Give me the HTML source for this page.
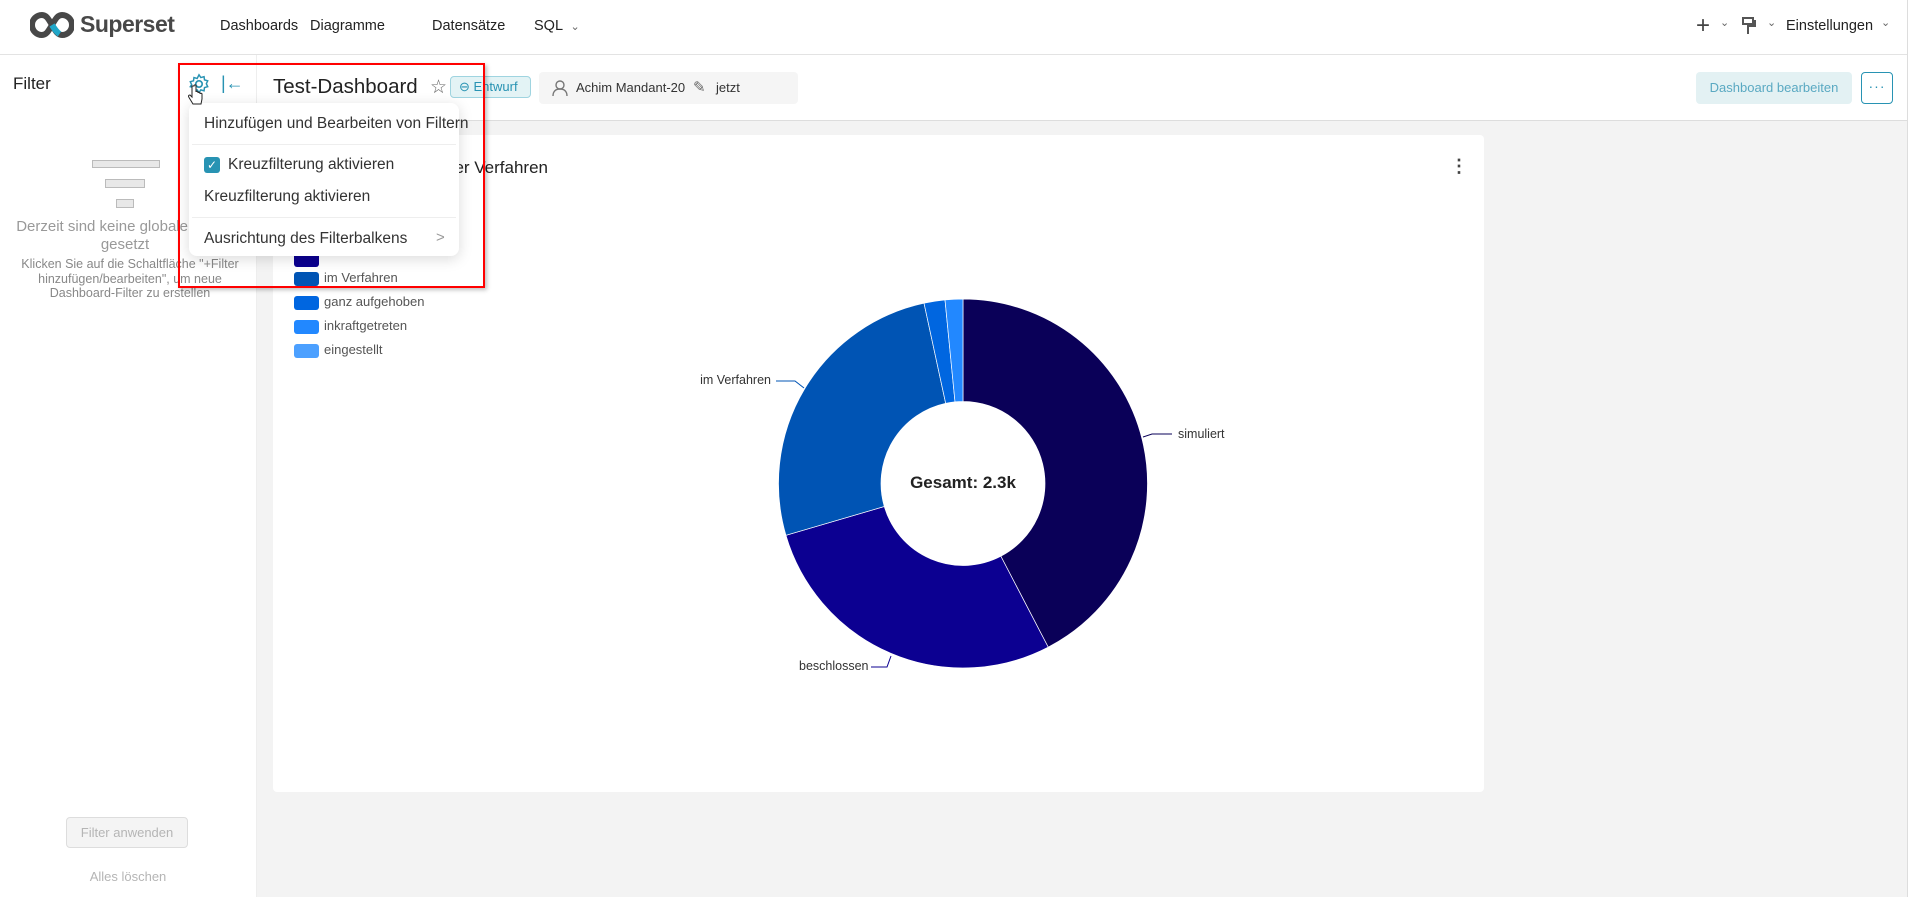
<!DOCTYPE html>
<html><head><meta charset="utf-8">
<style>
*{box-sizing:border-box;margin:0;padding:0}
body{width:1913px;height:897px;position:relative;overflow:hidden;background:#fff;font-family:"Liberation Sans",Arial,sans-serif;color:#333}
.a{position:absolute;white-space:nowrap}
.nav{font-size:14.5px;color:#222;top:18px}
</style></head><body>
<!-- header -->
<div class="a" style="left:0;top:0;width:1907px;height:55px;border-bottom:1px solid #e3e3e3;background:#fff"></div>
<svg class="a" style="left:30px;top:12px" width="44" height="26" viewBox="0 0 44 26">
<path d="M12 3a10 10 0 1 0 0 20c4 0 6-3 10-10s6-10 10-10a10 10 0 1 1 0 20c-4 0-6-3-10-10S16 3 12 3z" fill="none" stroke="#484848" stroke-width="6"/>
<path d="M22 13c2.5 4 4.5 7 7.5 9" stroke="#20a7c9" stroke-width="6" fill="none"/>
</svg>
<div class="a" style="left:80px;top:11px;font-size:23px;font-weight:bold;color:#484848;letter-spacing:-0.5px">Superset</div>
<div class="a nav" style="left:220px">Dashboards</div>
<div class="a nav" style="left:310px">Diagramme</div>
<div class="a nav" style="left:432px">Datensätze</div>
<div class="a nav" style="left:534px">SQL <span style="font-size:11px;color:#666;margin-left:4px">⌄</span></div>
<div class="a" style="left:1696px;top:12px;font-size:24px;color:#444;font-weight:300">+</div>
<div class="a" style="left:1720px;top:16px;font-size:11px;color:#666">⌄</div>
<svg class="a" style="left:1741px;top:17px" width="16" height="20"><rect x="2" y="1" width="10" height="6" fill="none" stroke="#555" stroke-width="2"/><path d="M12 4h2v5H7v8" fill="none" stroke="#555" stroke-width="2"/></svg>
<div class="a" style="left:1767px;top:16px;font-size:11px;color:#666">⌄</div>
<div class="a" style="left:1786px;top:18px;font-size:14.5px;color:#222">Einstellungen</div>
<div class="a" style="left:1881px;top:16px;font-size:11px;color:#666">⌄</div>
<div class="a" style="left:1907px;top:0;width:1px;height:897px;background:#ddd"></div>

<!-- left panel -->
<div class="a" style="left:256px;top:55px;width:1px;height:842px;background:#eee"></div>
<div class="a" style="left:13px;top:74px;font-size:17px;color:#222">Filter</div>
<svg class="a" style="left:188px;top:73px" width="22" height="22" viewBox="0 0 24 24"><circle cx="12" cy="12" r="3.5" fill="none" stroke="#2893b3" stroke-width="1.8"/><path d="M12 2l2 3 3.5-1 .5 3.5 3.5 1-1.5 3.2 1.5 3.2-3.5 1-.5 3.5-3.5-1-2 3-2-3-3.5 1-.5-3.5-3.5-1L4 12.7 2.5 9.5l3.5-1L6.5 5 10 6z" fill="none" stroke="#2893b3" stroke-width="1.6"/></svg>
<div class="a" style="left:221px;top:73px;font-size:18px;color:#2893b3">|←</div>
<div class="a" style="left:92px;top:160px;width:68px;height:8px;background:#e8e8e8;border:1px solid #bbb"></div>
<div class="a" style="left:105px;top:179px;width:40px;height:9px;background:#e8e8e8;border:1px solid #bbb"></div>
<div class="a" style="left:116px;top:199px;width:18px;height:9px;background:#e8e8e8;border:1px solid #bbb"></div>
<div class="a" style="left:0;top:218px;width:250px;text-align:center;font-size:15px;color:#999;line-height:18px;white-space:normal">Derzeit sind keine globalen Filter<br>gesetzt</div>
<div class="a" style="left:10px;top:257px;width:240px;text-align:center;font-size:12.5px;color:#888;line-height:14.5px;white-space:normal">Klicken Sie auf die Schaltfläche "+Filter hinzufügen/bearbeiten", um neue Dashboard-Filter zu erstellen</div>
<div class="a" style="left:66px;top:817px;width:122px;height:31px;background:#f4f4f4;border:1px solid #ddd;border-radius:4px;text-align:center;line-height:29px;font-size:13px;color:#b5b5b5">Filter anwenden</div>
<div class="a" style="left:0;top:869px;width:256px;text-align:center;font-size:13px;color:#b5b5b5">Alles löschen</div>

<!-- dashboard header -->
<div class="a" style="left:257px;top:120px;width:1650px;height:777px;background:#f3f3f3;border-top:1px solid #ddd"></div>
<div class="a" style="left:273px;top:75px;font-size:20.5px;color:#222">Test-Dashboard</div>
<div class="a" style="left:430px;top:76px;font-size:19px;color:#666">☆</div>
<div class="a" style="left:450px;top:76px;width:81px;height:22px;background:#e3f3f5;border:1px solid #9fd4e0;border-radius:4px;font-size:13px;color:#2893b3;line-height:20px;padding-left:8px">⊖ Entwurf</div>
<div class="a" style="left:539px;top:72px;width:259px;height:32px;background:#f5f5f5;border-radius:4px"></div>
<svg class="a" style="left:552px;top:80px" width="16" height="17"><circle cx="8" cy="5" r="4" fill="none" stroke="#777" stroke-width="1.4"/><path d="M1 16c0-5 3-7 7-7s7 2 7 7" fill="none" stroke="#777" stroke-width="1.4"/></svg>
<div class="a" style="left:576px;top:80px;font-size:13px;color:#333">Achim Mandant-20</div>
<div class="a" style="left:693px;top:78px;font-size:15px;color:#666">✎</div>
<div class="a" style="left:716px;top:80px;font-size:13px;color:#333">jetzt</div>
<div class="a" style="left:1696px;top:72px;width:156px;height:32px;background:#e3f1f3;border-radius:4px;text-align:center;line-height:32px;font-size:13px;color:#5aa9c2">Dashboard bearbeiten</div>
<div class="a" style="left:1861px;top:72px;width:32px;height:32px;border:1px solid #2893b3;border-radius:4px;text-align:center;line-height:26px;font-size:14px;color:#2893b3;letter-spacing:1px">···</div>

<!-- chart card -->
<div class="a" style="left:273px;top:135px;width:1211px;height:657px;background:#fff;border-radius:4px"></div>
<div class="a" style="left:290px;top:158px;width:258px;text-align:right;font-size:17px;color:#222">Anzahl der Verfahren</div>
<div class="a" style="left:1450px;top:156px;font-size:18px;color:#444;font-weight:bold">⋮</div>
<div class="a" style="left:294px;top:229px;width:25px;height:14px;border-radius:3px;background:#0a0058"></div>
<div class="a" style="left:294px;top:253px;width:25px;height:14px;border-radius:3px;background:#0c0091"></div>
<div class="a" style="left:294px;top:272px;width:25px;height:14px;border-radius:3px;background:#0054b4"></div><div class="a" style="left:324px;top:270px;font-size:13px;color:#555">im Verfahren</div>
<div class="a" style="left:294px;top:296px;width:25px;height:14px;border-radius:3px;background:#0066e0"></div><div class="a" style="left:324px;top:294px;font-size:13px;color:#555">ganz aufgehoben</div>
<div class="a" style="left:294px;top:320px;width:25px;height:14px;border-radius:3px;background:#2288ff"></div><div class="a" style="left:324px;top:318px;font-size:13px;color:#555">inkraftgetreten</div>
<div class="a" style="left:294px;top:344px;width:25px;height:14px;border-radius:3px;background:#4ca0ff"></div><div class="a" style="left:324px;top:342px;font-size:13px;color:#555">eingestellt</div>

<svg class="a" id="pie" style="left:0;top:0" width="1913" height="897"></svg>
<div class="a" style="left:1178px;top:427px;font-size:12.5px;color:#333">simuliert</div>
<div class="a" style="left:671px;top:373px;width:100px;text-align:right;font-size:12.5px;color:#333">im Verfahren</div>
<div class="a" style="left:799px;top:659px;font-size:12.5px;color:#333">beschlossen</div>
<div class="a" style="left:863px;top:473px;width:200px;text-align:center;font-size:17px;font-weight:bold;color:#222">Gesamt: 2.3k</div>

<!-- dropdown -->
<div class="a" style="left:189px;top:103px;width:270px;height:153px;background:#fff;border-radius:8px;box-shadow:0 3px 14px rgba(0,0,0,.15)"></div>
<div class="a" style="left:204px;top:115px;font-size:15.5px;color:#333">Hinzufügen und Bearbeiten von Filtern</div>
<div class="a" style="left:192px;top:144px;width:264px;height:1px;background:#eee"></div>
<div class="a" style="left:204px;top:157px;width:16px;height:16px;background:#2893b3;border-radius:3px;color:#fff;font-size:12px;text-align:center;line-height:16px">✓</div>
<div class="a" style="left:228px;top:156px;font-size:15.5px;color:#333">Kreuzfilterung aktivieren</div>
<div class="a" style="left:204px;top:188px;font-size:15.5px;color:#333">Kreuzfilterung aktivieren</div>
<div class="a" style="left:192px;top:217px;width:264px;height:1px;background:#eee"></div>
<div class="a" style="left:204px;top:230px;font-size:15.5px;color:#333">Ausrichtung des Filterbalkens</div>
<div class="a" style="left:436px;top:229px;font-size:15px;color:#999">&gt;</div>
<div class="a" style="left:178px;top:63px;width:307px;height:225px;border:2px solid #f00;box-shadow:2px 2px 4px rgba(0,0,0,.25)"></div>
<svg class="a" style="left:187px;top:84px" width="16" height="22"><path d="M5 2v11l-2-2c-1.5 0-2 1-1 2.5L6 20h8l1-5V10c0-1-2-1-2 0V9c0-1-2-1-2 0V8c0-1-2-1-2 0V2c0-1.5-2-1.5-2 0z" fill="#fff" stroke="#222" stroke-width="1"/></svg>

<script>
var cx=963,cy=483.5,R=184.5,r=82;
var segs=[[0,152.5,"#0a0058"],[152.5,253.7,"#0c0091"],[253.7,347.8,"#0054b4"],[347.8,354.4,"#0066e0"],[354.4,360,"#2288ff"]];
function p(a,rad){a=a*Math.PI/180;return (cx+rad*Math.sin(a)).toFixed(2)+" "+(cy-rad*Math.cos(a)).toFixed(2);}
var s="";
segs.forEach(function(g){var l=(g[1]-g[0])>180?1:0;
s+='<path d="M'+p(g[0],R)+' A'+R+' '+R+' 0 '+l+' 1 '+p(g[1],R)+' L'+p(g[1],r)+' A'+r+' '+r+' 0 '+l+' 0 '+p(g[0],r)+' Z" fill="'+g[2]+'" stroke="#fff" stroke-width="0.7"/>';});
s+='<polyline points="1143,437 1152,434 1172,434" fill="none" stroke="#0a0058" stroke-width="1"/>';
s+='<polyline points="804,388 795,381 776,381" fill="none" stroke="#0054b4" stroke-width="1"/>';
s+='<polyline points="891,656 887,667 871,667" fill="none" stroke="#0c0091" stroke-width="1"/>';
document.getElementById("pie").innerHTML=s;
</script>
</body></html>
